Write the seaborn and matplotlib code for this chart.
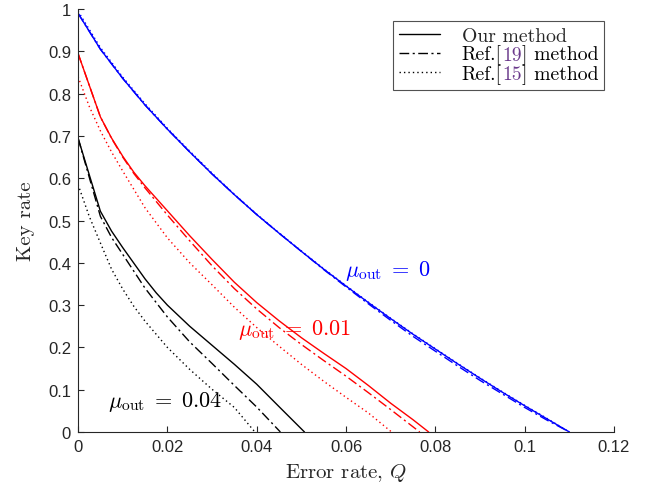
import matplotlib
matplotlib.use("Agg")
import matplotlib.pyplot as plt
from matplotlib.lines import Line2D
from matplotlib.transforms import IdentityTransform
import seaborn as sns
import pandas as pd

# mu_out = 0 (blue)
q_blue = [0, 0.005, 0.01, 0.015, 0.02, 0.025, 0.03, 0.035, 0.04, 0.045, 0.05, 0.055,
          0.06, 0.065, 0.07, 0.075, 0.08, 0.085, 0.09, 0.095, 0.1, 0.105, 0.11]
blue_our = [0.99, 0.905, 0.836, 0.773, 0.716, 0.662, 0.610, 0.561, 0.514, 0.470, 0.427, 0.385,
            0.345, 0.306, 0.268, 0.231, 0.196, 0.161, 0.127, 0.094, 0.062, 0.031, 0.0]
blue_ref19 = [0.99, 0.905, 0.836, 0.773, 0.716, 0.662, 0.610, 0.561, 0.514, 0.470, 0.427, 0.384,
              0.343, 0.303, 0.264, 0.226, 0.191, 0.156, 0.122, 0.090, 0.058, 0.028, 0.0]
blue_ref15 = [0.995, 0.909, 0.839, 0.776, 0.718, 0.664, 0.612, 0.562, 0.515, 0.471, 0.428, 0.386,
              0.346, 0.307, 0.269, 0.232, 0.197, 0.162, 0.128, 0.095, 0.063, 0.032, 0.0]

# mu_out = 0.01 (red)
q_red_our = [0, 0.005, 0.0075, 0.01, 0.0125, 0.015, 0.02, 0.025, 0.03, 0.035, 0.04, 0.045, 0.05,
             0.055, 0.06, 0.065, 0.07, 0.075, 0.0785]
red_our = [0.895, 0.745, 0.695, 0.652, 0.614, 0.582, 0.523, 0.464, 0.408, 0.354, 0.306, 0.263,
           0.223, 0.186, 0.150, 0.110, 0.068, 0.029, 0.0]
q_red_ref19 = [0, 0.005, 0.0075, 0.01, 0.0125, 0.015, 0.02, 0.025, 0.03, 0.035, 0.04, 0.045, 0.05,
               0.055, 0.06, 0.065, 0.07, 0.0765]
red_ref19 = [0.895, 0.745, 0.694, 0.650, 0.611, 0.577, 0.513, 0.452, 0.393, 0.339, 0.291, 0.247,
             0.207, 0.169, 0.132, 0.093, 0.053, 0.0]
q_red_ref15 = [0, 0.0025, 0.005, 0.0075, 0.01, 0.015, 0.02, 0.025, 0.03, 0.035, 0.04, 0.045,
               0.05, 0.055, 0.06, 0.065, 0.0702]
red_ref15 = [0.840, 0.770, 0.712, 0.662, 0.617, 0.530, 0.459, 0.400, 0.348, 0.295, 0.247, 0.203,
             0.160, 0.120, 0.082, 0.045, 0.0]

# mu_out = 0.04 (black)
q_blk_our = [0, 0.005, 0.0075, 0.01, 0.015, 0.0175, 0.02, 0.025, 0.03, 0.035, 0.04, 0.045, 0.0507]
blk_our = [0.695, 0.522, 0.475, 0.436, 0.362, 0.329, 0.300, 0.250, 0.205, 0.160, 0.113, 0.060, 0.0]
q_blk_ref19 = [0, 0.005, 0.0075, 0.01, 0.015, 0.02, 0.025, 0.03, 0.035, 0.04, 0.0453]
blk_ref19 = [0.695, 0.510, 0.460, 0.420, 0.340, 0.272, 0.213, 0.162, 0.110, 0.059, 0.0]
q_blk_ref15 = [0, 0.0025, 0.005, 0.0075, 0.01, 0.0125, 0.015, 0.02, 0.025, 0.03, 0.035, 0.0396]
blk_ref15 = [0.585, 0.510, 0.447, 0.385, 0.338, 0.297, 0.262, 0.200, 0.148, 0.101, 0.058, 0.0]

x_ticks = [0, 0.02, 0.04, 0.06, 0.08, 0.1, 0.12]
x_labels = ["0", "0.02", "0.04", "0.06", "0.08", "0.1", "0.12"]
y_ticks = [0, 0.1, 0.2, 0.3, 0.4, 0.5, 0.6, 0.7, 0.8, 0.9, 1.0]
y_labels = ["0", "0.1", "0.2", "0.3", "0.4", "0.5", "0.6", "0.7", "0.8", "0.9", "1"]

sns.set_style("white")
plt.rcParams["font.family"] = ["Liberation Sans", "DejaVu Sans"]
plt.rcParams["mathtext.fontset"] = "cm"

styles = {"our": "-", "ref19": (0, (7, 2.5, 1.5, 2.5)), "ref15": (0, (1, 2.2))}

series = [
    (q_blue, blue_our, "blue", "our"), (q_blue, blue_ref19, "blue", "ref19"), (q_blue, blue_ref15, "blue", "ref15"),
    (q_red_our, red_our, "red", "our"), (q_red_ref19, red_ref19, "red", "ref19"), (q_red_ref15, red_ref15, "red", "ref15"),
    (q_blk_our, blk_our, "black", "our"), (q_blk_ref19, blk_ref19, "black", "ref19"), (q_blk_ref15, blk_ref15, "black", "ref15"),
]

fig = plt.figure(figsize=(6.45, 4.89), dpi=100)
ax = fig.add_axes([0.121, 0.1145, 0.831, 0.865])

for q, r, c, m in series:
    df = pd.DataFrame({"Q": q, "rate": r})
    sns.lineplot(data=df, x="Q", y="rate", color=c, linestyle=styles[m], linewidth=1.0,
                 ax=ax, legend=False, sort=False)

ax.set_xlim(0, 0.12)
ax.set_ylim(0, 1)
ax.set_xticks(x_ticks)
ax.set_xticklabels(x_labels)
ax.set_yticks(y_ticks)
ax.set_yticklabels(y_labels)
ax.tick_params(direction="in", length=4, width=0.8, labelsize=12, colors="#262626",
               bottom=True, left=True, pad=5)
for s in ["top", "right"]:
    ax.spines[s].set_visible(False)
for s in ["left", "bottom"]:
    ax.spines[s].set_color("#262626")
    ax.spines[s].set_linewidth(0.8)

ax.set_xlabel("Error rate, $Q$", family="cmr10", fontsize=15, labelpad=5)
ax.set_ylabel("Key rate", family="cmr10", fontsize=15, labelpad=9)

ax.text(0.0598, 0.371, r"$\mu_{\mathrm{out}}\;=\;0$", color="blue", fontsize=16)
ax.text(0.0358, 0.231, r"$\mu_{\mathrm{out}}\;=\;0.01$", color="red", fontsize=16)
ax.text(0.0067, 0.061, r"$\mu_{\mathrm{out}}\;=\;0.04$", color="black", fontsize=16)

handles = [Line2D([], [], color="black", lw=1.0, linestyle=styles["our"]),
           Line2D([], [], color="black", lw=1.0, linestyle=styles["ref19"]),
           Line2D([], [], color="black", lw=1.0, linestyle=styles["ref15"])]
labels = ["Our method", "Ref.[19] method", "Ref.[15] method"]
leg_font = {"family": "cmr10", "size": 14.2}
leg = ax.legend(handles, labels, loc="upper right", bbox_to_anchor=(0.981, 0.972), prop=leg_font,
                frameon=True, fancybox=False, edgecolor="#262626", handlelength=2.1,
                handletextpad=1.1, borderpad=0.3, labelspacing=0.0, borderaxespad=0)
leg.get_frame().set_linewidth(0.8)

# redraw the citation labels in pieces so the reference numbers are purple
fig.canvas.draw()
rend = fig.canvas.get_renderer()


def text_width(s):
    probe = fig.text(0, 0, s, fontdict=leg_font, transform=IdentityTransform())
    w = probe.get_window_extent(rend).width
    probe.remove()
    return w


for t, num in zip(leg.get_texts()[1:], ["19", "15"]):
    x0, y0 = t.get_transform().transform((0, 0))
    t.set_visible(False)
    pieces = [("Ref.[", "black", 0),
              (num, "#6b3a8c", text_width("Ref.[") + 0.5),
              ("] method", "black", text_width("Ref.[" + num) + 1.0)]
    for s, col, dx in pieces:
        fig.text(x0 + dx, y0, s, fontdict=leg_font, color=col, ha="left", va="baseline",
                 transform=IdentityTransform(), zorder=10)

fig.savefig("out.png", dpi=100)
